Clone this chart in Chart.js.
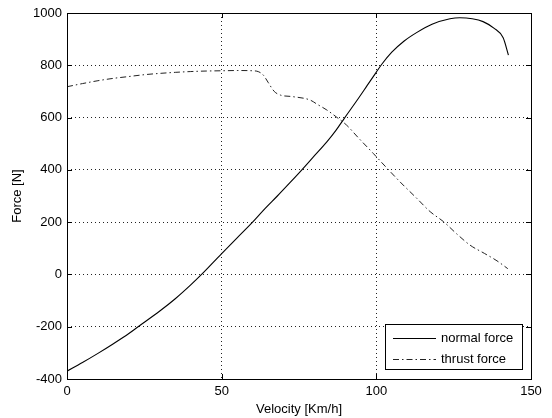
<!DOCTYPE html>
<html>
<head>
<meta charset="utf-8">
<script src="https://cdn.jsdelivr.net/npm/chart.js@4"></script>
<style>
html,body{margin:0;padding:0;background:#fff;}
canvas{display:block;}
</style>
</head>
<body>
<canvas id="c" width="552" height="418"></canvas>
<script>
const xTicks = [0, 50, 100, 150];
const yTicks = [-400, -200, 0, 200, 400, 600, 800, 1000];
const seriesNames = ["normal force", "thrust force"];

const normalV = [0, 5, 10, 15, 20, 23, 30, 35, 40, 43.5, 50, 55, 60, 64, 68, 72, 76, 80, 84, 87, 89.7, 94, 97, 100, 101.7, 105, 109, 113, 118, 123.8, 127, 131, 134.5, 138, 141, 142.7];
const normalF = [-370, -337, -302, -265, -226, -200, -140, -93, -40, 0, 80, 140, 200, 252, 300, 350, 401, 454, 507, 552, 598, 670, 722, 774, 803, 850, 893, 925, 957, 978, 982, 978, 967, 942, 905, 839];

const thrustV = [0, 5, 10, 15, 20, 25, 30, 35, 40, 45, 50, 55, 60, 62, 63.5, 65, 67, 69, 73, 78.6, 81, 84, 87, 90.4, 94, 99, 103, 108, 113, 117.4, 121.7, 126, 130.3, 135, 139, 142.5];
const thrustF = [718, 730, 741, 750, 757, 764, 769, 773, 776, 778, 779, 780, 779, 775, 762, 735, 700, 686, 680, 667, 650, 629, 603, 571, 525, 463, 412, 350, 292, 240, 202, 155, 112, 80, 52, 22];

const FONT = '"Liberation Sans", Arial, sans-serif';

function pts(xs, ys) { return xs.map((x, i) => ({x: x, y: ys[i]})); }

const frameLegendPlugin = {
  id: 'frameLegend',
  beforeDraw(chart) {
    const ctx = chart.ctx;
    ctx.save();
    ctx.fillStyle = '#fff';
    ctx.fillRect(0, 0, chart.width, chart.height);
    ctx.restore();
  },
  afterDraw(chart) {
    const ctx = chart.ctx;
    const a = chart.chartArea;
    const xs = chart.scales.x, ys = chart.scales.y;
    ctx.save();
    ctx.strokeStyle = '#000';
    ctx.lineWidth = 1;
    ctx.setLineDash([]);
    ctx.strokeRect(Math.round(a.left) + 0.5, Math.round(a.top) + 0.5, Math.round(a.right - a.left), Math.round(a.bottom - a.top));
    const tl = 5;
    ctx.beginPath();
    xTicks.forEach(v => {
      const px = Math.round(xs.getPixelForValue(v)) + 0.5;
      ctx.moveTo(px, a.bottom); ctx.lineTo(px, a.bottom - tl);
      ctx.moveTo(px, a.top); ctx.lineTo(px, a.top + tl);
    });
    yTicks.forEach(v => {
      const py = Math.round(ys.getPixelForValue(v)) + 0.5;
      ctx.moveTo(a.left, py); ctx.lineTo(a.left + tl, py);
      ctx.moveTo(a.right, py); ctx.lineTo(a.right - tl, py);
    });
    ctx.stroke();
    ctx.fillStyle = '#000';
    ctx.font = '13px ' + FONT;
    ctx.textAlign = 'center';
    ctx.textBaseline = 'middle';
    ctx.fillText('Velocity [Km/h]', (a.left + a.right) / 2, 409);
    ctx.save();
    ctx.translate(17, (a.top + a.bottom) / 2);
    ctx.rotate(-Math.PI / 2);
    ctx.fillText('Force [N]', 0, 0);
    ctx.restore();
    const bx = 385.5, by = 324.5, bw = 137, bh = 45;
    ctx.fillStyle = '#fff';
    ctx.fillRect(bx, by, bw, bh);
    ctx.strokeStyle = '#000';
    ctx.strokeRect(bx, by, bw, bh);
    const ds = chart.data.datasets;
    const rowsY = [338.5, 359.5];
    ds.forEach((d, i) => {
      ctx.beginPath();
      ctx.strokeStyle = d.borderColor;
      ctx.lineWidth = 1;
      ctx.setLineDash(d.borderDash || []);
      ctx.moveTo(393, rowsY[i]);
      ctx.lineTo(436, rowsY[i]);
      ctx.stroke();
      ctx.setLineDash([]);
      ctx.fillStyle = '#000';
      ctx.textAlign = 'left';
      ctx.textBaseline = 'middle';
      ctx.fillText(d.label, 441, rowsY[i]);
    });
    ctx.restore();
  }
};

new Chart(document.getElementById('c'), {
  type: 'line',
  data: {
    datasets: [
      {
        label: seriesNames[0],
        data: pts(normalV, normalF),
        borderColor: '#000',
        borderWidth: 1.1,
        pointRadius: 0,
        cubicInterpolationMode: 'monotone',
        fill: false
      },
      {
        label: seriesNames[1],
        data: pts(thrustV, thrustF),
        borderColor: '#222',
        borderWidth: 1,
        borderDash: [6, 3, 1.5, 3],
        pointRadius: 0,
        cubicInterpolationMode: 'monotone',
        fill: false
      }
    ]
  },
  options: {
    responsive: false,
    animation: false,
    devicePixelRatio: 1,
    layout: { padding: { top: 13, right: 21, left: 0, bottom: 0 } },
    plugins: { legend: { display: false }, tooltip: { enabled: false } },
    scales: {
      x: {
        type: 'linear',
        min: xTicks[0], max: xTicks[xTicks.length - 1],
        afterBuildTicks(scale) { scale.ticks = xTicks.map(v => ({value: v})); },
        afterFit(scale) { scale.height = 39; },
        ticks: { color: '#000', font: { size: 13, family: FONT }, padding: 5, maxRotation: 0, callback: v => String(v) },
        grid: { color: '#222', lineWidth: 1, drawTicks: false },
        border: { display: false, dash: [1, 3] }
      },
      y: {
        type: 'linear',
        min: yTicks[0], max: yTicks[yTicks.length - 1],
        afterBuildTicks(scale) { scale.ticks = yTicks.map(v => ({value: v})); },
        afterFit(scale) { scale.width = 67; },
        ticks: { color: '#000', font: { size: 13, family: FONT }, padding: 5, callback: v => String(v) },
        grid: { color: '#222', lineWidth: 1, drawTicks: false },
        border: { display: false, dash: [1, 3] }
      }
    }
  },
  plugins: [frameLegendPlugin]
});
</script>
</body>
</html>
